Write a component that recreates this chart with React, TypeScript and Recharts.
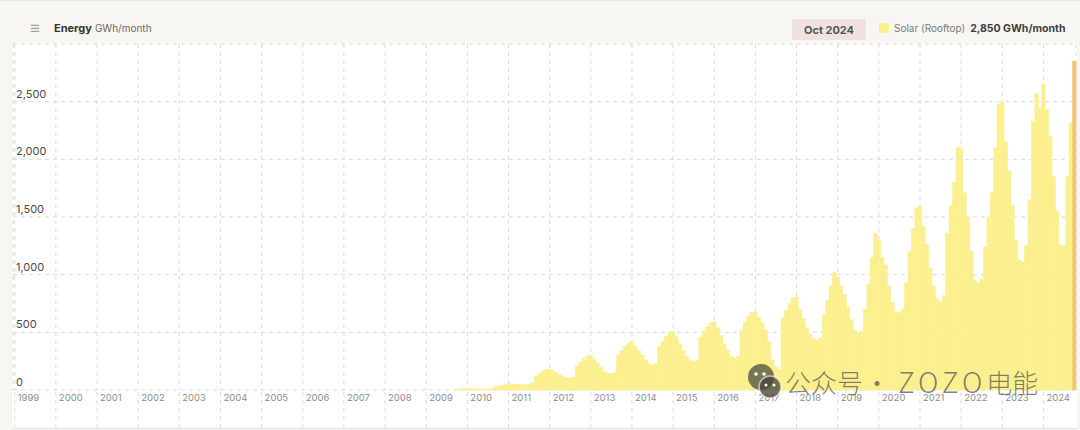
import React from 'react';
import { BarChart, Bar, XAxis, YAxis, CartesianGrid, Cell } from 'recharts';

const years = ['1999','2000','2001','2002','2003','2004','2005','2006','2007','2008','2009','2010','2011','2012','2013','2014','2015','2016','2017','2018','2019','2020','2021','2022','2023','2024'];
const monthCodes = ['01','02','03','04','05','06','07','08','09','10','11','12'];
const yTicks = [0, 500, 1000, 1500, 2000, 2500, 3000];
const lastMonth = '2024-10';

// Solar (Rooftop), GWh/month, Jan..Dec
const solar2009 = [0, 0, 0, 0, 0, 0, 0, 0, 0, 8, 10, 12];
const solar2010 = [12, 12, 11, 10, 9, 9, 10, 12, 25, 32, 40, 48];
const solar2011 = [55, 52, 50, 48, 45, 45, 50, 60, 118, 140, 160, 178];
const solar2012 = [180, 165, 150, 130, 115, 105, 105, 110, 210, 240, 270, 295];
const solar2013 = [300, 265, 235, 195, 160, 145, 140, 150, 300, 340, 380, 405];
const solar2014 = [415, 380, 340, 300, 260, 225, 215, 230, 375, 420, 465, 500];
const solar2015 = [505, 460, 400, 340, 290, 255, 245, 260, 460, 510, 550, 580];
const solar2016 = [590, 540, 470, 400, 340, 290, 277, 290, 520, 590, 640, 675];
const solar2017 = [676, 630, 580, 520, 420, 260, 200, 175, 624, 690, 750, 800];
const solar2018 = [806, 700, 620, 540, 480, 440, 435, 450, 650, 780, 900, 1020];
const solar2019 = [980, 900, 830, 720, 610, 520, 495, 510, 700, 920, 1150, 1360];
const solar2020 = [1300, 1150, 1084, 900, 760, 680, 668, 700, 930, 1200, 1400, 1580];
const solar2021 = [1590, 1420, 1260, 1060, 900, 790, 760, 820, 1360, 1600, 1800, 2100];
const solar2022 = [2100, 1710, 1500, 1200, 950, 930, 960, 1240, 1500, 1710, 2100, 2480];
const solar2023 = [2490, 2150, 1900, 1600, 1300, 1127, 1110, 1250, 1650, 2330, 2570, 2440];
const solar2024 = [2650, 2430, 2200, 1850, 1550, 1260, 1250, 1850, 2315, 2850];

const seriesByYear: Record<string, number[]> = {
  '2009': solar2009, '2010': solar2010, '2011': solar2011, '2012': solar2012,
  '2013': solar2013, '2014': solar2014, '2015': solar2015, '2016': solar2016,
  '2017': solar2017, '2018': solar2018, '2019': solar2019, '2020': solar2020,
  '2021': solar2021, '2022': solar2022, '2023': solar2023, '2024': solar2024,
};

const data = years
  .flatMap((y) => monthCodes.map((m, i) => ({ m: `${y}-${m}`, v: seriesByYear[y] ? seriesByYear[y][i] : undefined })))
  .filter((d) => d.m <= lastMonth);

const xTicks = years.map((y) => `${y}-01`);

const YELLOW = '#fcef8e';
const HIGHLIGHT = '#f3c56c';
const FONT = 'Inter, "Noto Sans", sans-serif';

const fmt = (v: number) => v.toLocaleString('en-US');

const XTick = (props: any) => {
  const { x, payload } = props;
  return (
    <text x={x + 3} y={401} fontSize={9.5} fill="#8d8d8d" fontFamily={FONT}>
      {String(payload.value).slice(0, 4)}
    </text>
  );
};

const YTick = (props: any) => {
  const { y, payload } = props;
  if (payload.value === 3000) return <g />;
  return (
    <text x={16} y={y - 4} fontSize={11} fill="#4a4a4a" fontFamily={FONT} textAnchor="start">
      {fmt(payload.value)}
    </text>
  );
};

const BarBackground = (props: any) => {
  const { x, y, width, height, index } = props;
  if (index !== data.length - 1) return <g />;
  return <rect x={x} y={y} width={width} height={height} fill="#f1e5e1" />;
};

export default function App() {
  return (
    <div style={{ position: 'absolute', left: 0, top: 0, width: 1080, height: 430, background: '#f8f6f2', overflow: 'hidden', fontFamily: FONT }}>
      <div style={{ position: 'absolute', left: 0, top: 0, width: 1080, height: 1, background: '#e8e6e1' }} />
      <div style={{ position: 'absolute', left: 12, top: 43, width: 1065, height: 385, background: '#ffffff', borderBottom: '1px solid #e6e4df' }} />

      {/* header */}
      <div style={{ position: 'absolute', left: 30, top: 19, fontSize: 17, color: '#a0a0a0', lineHeight: '18px' }}>≡</div>
      <div style={{ position: 'absolute', left: 54, top: 21, fontSize: 11, lineHeight: '14px', whiteSpace: 'nowrap' }}>
        <span style={{ fontWeight: 700, color: '#353535' }}>Energy</span>
        <span style={{ color: '#6a6a6a', fontSize: 10, marginLeft: 3 }}>GWh/month</span>
      </div>
      <div style={{ position: 'absolute', left: 792, top: 19, width: 74, height: 21, background: '#f0e3df', display: 'flex', alignItems: 'center', justifyContent: 'center', fontSize: 11, fontWeight: 700, color: '#555' }}>
        Oct 2024
      </div>
      <div style={{ position: 'absolute', left: 879, top: 23, width: 10, height: 10, background: YELLOW }} />
      <div style={{ position: 'absolute', left: 894, top: 22, fontSize: 10, lineHeight: '13px', whiteSpace: 'nowrap' }}>
        <span style={{ color: '#7a7a7a' }}>Solar (Rooftop)</span>
        <span style={{ color: '#3e3e3e', fontWeight: 700, marginLeft: 5, fontSize: 10.5 }}>2,850 GWh/month</span>
      </div>

      <div style={{ position: 'absolute', left: 0, top: 0 }}>
        <BarChart
          width={1080}
          height={430}
          data={data}
          margin={{ top: 44, right: 4, bottom: 2, left: 13 }}
          barCategoryGap={0}
          barGap={0}
        >
          <CartesianGrid stroke="#dadada" strokeDasharray="4 4" />
          <XAxis
            dataKey="m"
            ticks={xTicks}
            interval={0}
            height={38}
            tickSize={38}
            axisLine={false}
            tickLine={{ stroke: '#dadada', strokeDasharray: '4 4' }}
            tick={<XTick />}
          />
          <YAxis
            mirror
            width={60}
            domain={[0, 3000]}
            ticks={yTicks}
            interval={0}
            axisLine={false}
            tickLine={false}
            tick={<YTick />}
          />
          <Bar dataKey="v" fill={YELLOW} isAnimationActive={false} barSize={3.42} background={<BarBackground />}>
            {data.map((d, i) => {
              const c = i === data.length - 1 ? HIGHLIGHT : YELLOW;
              return <Cell key={d.m} fill={c} stroke={c} strokeWidth={0.6} />;
            })}
          </Bar>
        </BarChart>
      </div>

      {/* watermark */}
      <svg style={{ position: 'absolute', left: 746, top: 362 }} width={40} height={40}>
        <circle cx={15} cy={15} r={13} fill="rgba(70,70,60,0.72)" />
        <circle cx={24} cy={25} r={11} fill="rgba(70,70,60,0.78)" stroke="rgba(255,255,255,0.6)" strokeWidth={1.5} />
        <circle cx={10} cy={12} r={1.8} fill="#fff" />
        <circle cx={18} cy={12} r={1.8} fill="#fff" />
        <circle cx={20} cy={23} r={1.5} fill="#fff" />
        <circle cx={28} cy={23} r={1.5} fill="#fff" />
      </svg>
      <div style={{ position: 'absolute', left: 785, top: 364, fontSize: 26, lineHeight: '34px', color: 'rgba(80,80,80,0.72)', fontFamily: '"Noto Sans CJK SC", sans-serif', fontWeight: 300, whiteSpace: 'nowrap' }}>
        <span>公众号</span>
        <span style={{ marginLeft: 1 }}>·</span>
        <span style={{ marginLeft: 8, letterSpacing: 4, fontSize: 28 }}>ZOZO</span>
        <span>电能</span>
      </div>
    </div>
  );
}
